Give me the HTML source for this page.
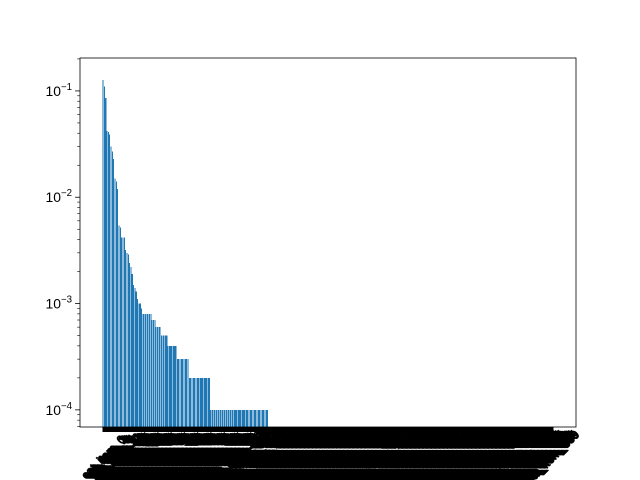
<!DOCTYPE html>
<html><head><meta charset="utf-8"><style>
html,body{margin:0;background:#fff;width:640px;height:480px;overflow:hidden;}
svg{display:block;font-family:"Liberation Sans","DejaVu Sans",sans-serif;overflow:hidden;}
</style></head><body>
<svg id="chart" width="640" height="480" viewBox="0 0 640 480">
<rect width="640" height="480" fill="#fff"/>
<g id="bars" shape-rendering="crispEdges"></g>
<g id="xticks" shape-rendering="crispEdges"></g>
<g id="xlabels"></g>
<g id="yticks"></g>
<rect x="80" y="58" width="496" height="369" fill="none" stroke="#000" stroke-width="0.8"/>
</svg>
<script>
const values = [0.127,0.11,0.086,0.042,0.041,0.039,0.03,0.027,0.023,0.015,0.014,0.012,0.0054,0.0052,0.0042,0.0042,0.0042,0.0032,0.003,0.0029,0.0024,0.0022,0.0019,0.0015,0.0014,0.0013,0.0011,0.001,0.001,0.0009,
0.0008,0.0008,0.0008,0.0008,0.0008,0.0008,0.0008,0.0007,0.0007,0.0007,0.0006,0.0006,0.0006,0.0006,0.0005,0.0005,0.0005,0.0005,0.0005,
0.0004,0.0004,0.0004,0.0004,0.0004,0.0004,0.0004,0.0003,0.0003,0.0003,0.0003,0.0003,0.0003,0.0003,0.0003,0.0003,
0.0002,0.0002,0.0002,0.0002,0.0002,0.0002,0.0002,0.0002,0.0002,0.0002,0.0002,0.0002,0.0002,0.0002,0.0002,0.0002,
0.0001,0.0001,0.0001,0.0001,0.0001,0.0001,0.0001,0.0001,0.0001,0.0001,0.0001,0.0001,0.0001,0.0001,0.0001,0.0001,0.0001,0.0001,0.0001,0.0001,0.0001,0.0001,
0.0001,0.0001,0.0001,0.0001,0.0001,0.0001,0.0001,0.0001,0.0001,0.0001,0.0001,0.0001,0.0001,0.0001,0.0001,0.0001,0.0001,0.0001,0.0001,0.0001,0.0001,0.0001,
0,0,0,0,0,0,0,0,0,0,0,0,0,0,0,0,0,0,0,0,0,0,0,0,0,0,0,0,0,0,0,0,0,0,0,0,0,0,0,0,0,0,0,0,0,0,0,0,0,0,
0,0,0,0,0,0,0,0,0,0,0,0,0,0,0,0,0,0,0,0,0,0,0,0,0,0,0,0,0,0,0,0,0,0,0,0,0,0,0,0,0,0,0,0,0,0,0,0,0,0,
0,0,0,0,0,0,0,0,0,0,0,0,0,0,0,0,0,0,0,0,0,0,0,0,0,0,0,0,0,0,0,0,0,0,0,0,0,0,0,0,0,0,0,0,0,0,0,0,0,0,
0,0,0,0,0,0,0,0,0,0,0,0,0,0,0,0,0,0,0,0,0,0,0,0,0,0,0,0,0,0,0,0,0,0,0,0,0,0,0,0,0,0,0,0,0,0,0,0,0,0,
0,0,0,0,0,0,0,0,0,0,0,0,0,0,0];
const categories = values.map((v,i)=>'cat_item_' + i);
const yTickExps = [-4,-3,-2,-1];
const yMin = 6.9e-5, yMax = 0.204;

const NS='http://www.w3.org/2000/svg';
const L=80,R=576,T=58,B=427;
const N=values.length;
const span=(N-1)+0.8;
const m=0.05*span;
const x0=-0.4-m, x1=N-0.6+m;
function xs(d){return L+(d-x0)/(x1-x0)*(R-L);}
function ys(v){return B-(Math.log10(v)-Math.log10(yMin))/(Math.log10(yMax)-Math.log10(yMin))*(B-T);}
function mk(tag,attrs,parent){const e=document.createElementNS(NS,tag);for(const k in attrs)e.setAttribute(k,attrs[k]);parent.appendChild(e);return e;}

const gb=document.getElementById('bars');
values.forEach((v,i)=>{
  if(v<=0) return;
  const xa=xs(i-0.4), xb=xs(i+0.4), y=ys(v);
  const r=mk('rect',{x:xa,y:y,width:xb-xa,height:B-y,fill:'#1f77b4'},gb);
  
  
});
const gxt=document.getElementById('xticks');
const band=mk('rect',{x:xs(-0.4),y:B,width:xs(N-0.6)-xs(-0.4),height:5,fill:'#000'},gxt);


const gxl=document.getElementById('xlabels');
categories.forEach((c,i)=>{
  const x=xs(i);
  const t=mk('line',{x1:x,x2:x,y1:B,y2:B+4.9,stroke:'#000','stroke-width':0.8},gxt);
  
  
  const tx=mk('text',{x:0,y:4,'font-size':'11.5','text-anchor':'middle',fill:'#000',stroke:'#000','stroke-width':'0.7',transform:'translate('+x+','+(B+30)+') rotate(-45)'},gxl);
  tx.textContent=c;
  
  
});
const gy=document.getElementById('yticks');
for(let e=-5;e<=0;e++){
  for(let k=1;k<10;k++){
    const v=k*Math.pow(10,e);
    if(v<yMin||v>yMax) continue;
    const y=ys(v);
    const t=mk('line',{x1:L,x2:L-(k===1?4.9:2.8),y1:y,y2:y,stroke:'#000','stroke-width':k===1?0.8:0.6},gy);
    
    
  }
}
yTickExps.forEach(e=>{
  const y=ys(Math.pow(10,e));
  const tx=mk('text',{x:L-8,y:y+5,'font-size':'13.9','text-anchor':'end'},gy);
  
  
  const a=mk('tspan',{},tx); a.textContent='10';
  const b=mk('tspan',{dy:-6,'font-size':'9.7'},tx); b.textContent='\u2212'+Math.abs(e);
});
</script>
</body></html>
